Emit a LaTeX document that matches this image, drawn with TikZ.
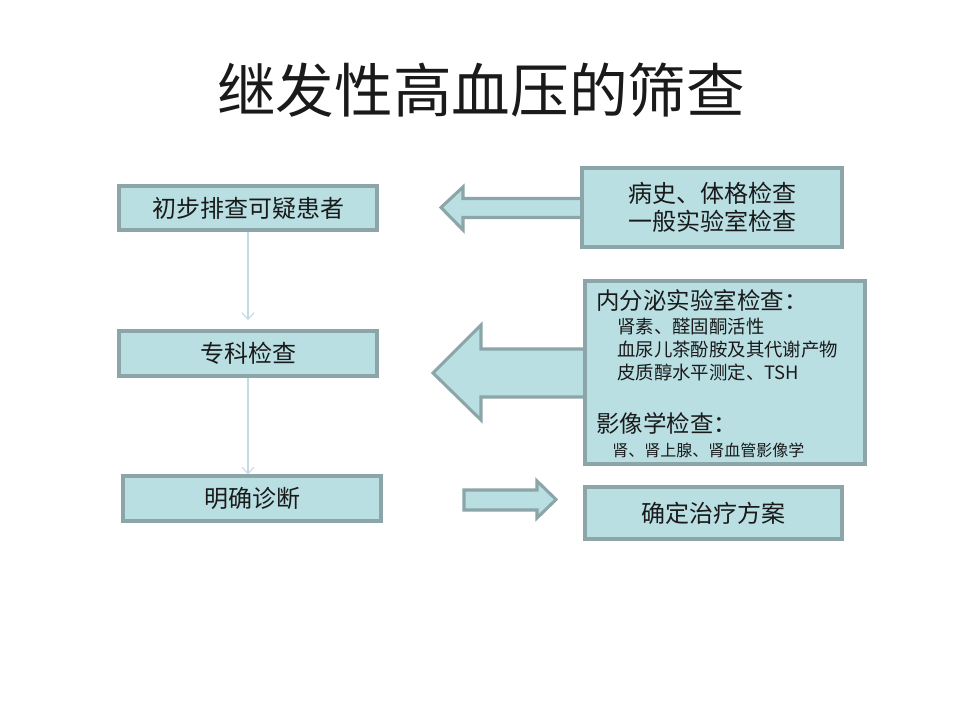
\documentclass[tikz,border=0pt]{standalone}
\usepackage{fontspec}
\setmainfont{Noto Sans CJK SC}
\newfontfamily\cjk{Noto Sans CJK SC}
\usetikzlibrary{arrows.meta}
\definecolor{boxfill}{HTML}{B9DFE3}
\definecolor{boxline}{HTML}{8BA5A8}
\definecolor{linkcol}{HTML}{C3DAE2}
\definecolor{txt}{HTML}{1A1A1A}
\tikzset{
  box/.style={draw=boxline, fill=boxfill, line width=2.3pt, inner sep=0pt, text=txt, font=\cjk\fontsize{18pt}{22pt}\selectfont},
  bigarrow/.style={draw=boxline, fill=boxfill, line width=2.3pt, line join=miter},
  link/.style={draw=linkcol, line width=0.8pt, -{Straight Barb[length=5pt,width=9pt]}},
  sub/.style={anchor=west, inner sep=0pt, text=txt, font=\cjk\fontsize{13.8pt}{16pt}\selectfont},
  head/.style={anchor=west, inner sep=0pt, text=txt, font=\cjk\fontsize{17.6pt}{20pt}\selectfont}
}
\begin{document}
\begin{tikzpicture}[x=0.75pt,y=-0.75pt]
\useasboundingbox (0,0) rectangle (960,720);
\fill[white] (0,0) rectangle (960,720);

% title
\node[text=txt, font=\cjk\fontsize{44pt}{50pt}\selectfont, inner sep=0pt] (title) at (481,90) {继发性高血压的筛查};

% big arrows (drawn before boxes)
\draw[bigarrow] (584,198.5) -- (463,198.5) -- (463,187) -- (441,207.5) -- (463,230) -- (463,217.5) -- (584,217.5);
\draw[bigarrow] (587,349) -- (481,349) -- (481,325) -- (433,373) -- (481,420) -- (481,397) -- (587,397);
\draw[bigarrow] (464,510) -- (464,490) -- (537,490) -- (537,481) -- (556,499.5) -- (537,518) -- (537,510) -- cycle;

% left boxes
\node[box, minimum width=193.5pt, minimum height=33pt] (b1) at (248,208) {初步排查可疑患者};
\node[box, minimum width=193.5pt, minimum height=33.75pt] (b2) at (248,353.5) {专科检查};
\node[box, minimum width=193.5pt, minimum height=33.75pt] (b3) at (252,498.5) {明确诊断};

% right boxes
\node[box, minimum width=195pt, minimum height=59.25pt, align=center] (r1) at (712,207.5) {病史、体格检查\\[-1pt]一般实验室检查};
\node[box, minimum width=210pt, minimum height=137.25pt] (r2) at (725,372.5) {};
\node[box, minimum width=192.75pt, minimum height=39pt] (r3) at (713.5,513) {确定治疗方案};

% text of r2
\node[head] (h1) at (596,301) {内分泌实验室检查：};
\node[sub] (s1) at (617,327) {肾素、醛固酮活性};
\node[sub] (s2) at (617,350) {血尿儿茶酚胺及其代谢产物};
\node[sub] (s3) at (617,372) {皮质醇水平测定、TSH};
\node[head] (h2) at (596,423) {影像学检查：};
\node[sub, font=\cjk\fontsize{12pt}{14pt}\selectfont] (s4) at (612,450) {肾、肾上腺、肾血管影像学};

% thin connectors
\draw[link, shorten >=7pt] (b1.south) -- (b2.north);
\draw[link, shorten >=0pt] (b2.south) -- (b2.south |- b3.north);
\end{tikzpicture}
\end{document}
